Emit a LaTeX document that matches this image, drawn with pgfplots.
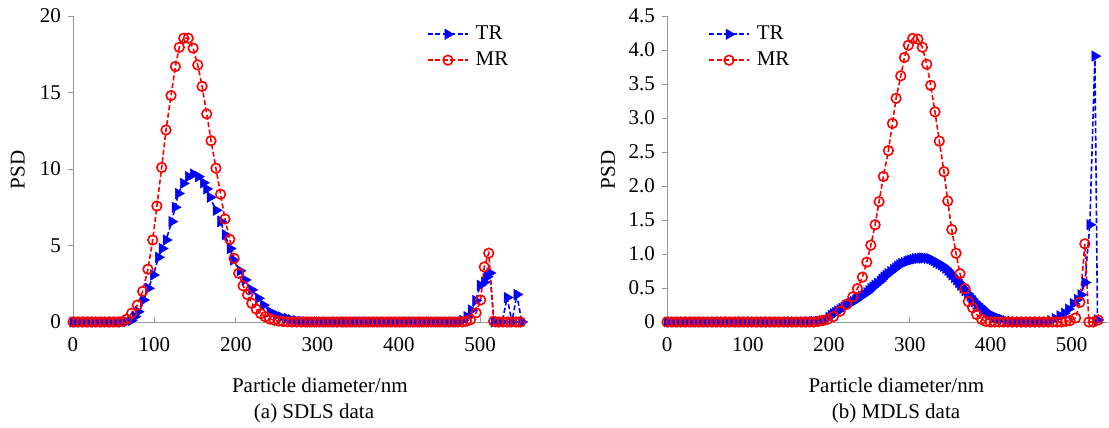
\documentclass[border=0pt]{standalone}
\usepackage{pgfplots}
\pgfplotsset{compat=1.18}
\usepackage{fontspec}
\setmainfont{Liberation Serif}
\definecolor{trblue}{RGB}{0,0,255}
\definecolor{mrred}{RGB}{255,0,0}
\definecolor{axgray}{RGB}{150,150,150}
\begin{document}
\fontsize{21pt}{25pt}\selectfont
\begin{tikzpicture}
\path[use as bounding box] (0,0) rectangle (1109pt,428pt);
\pgfplotsset{
  psd/.style={
    scale only axis,
    anchor=south west,
    height=306pt,
    axis x line*=bottom,
    axis y line*=left,
    axis line style={axgray, line width=0.8pt},
    xtick={0,100,200,300,400,500},
    xtick style={axgray, line width=0.8pt},
    ytick style={axgray, line width=0.8pt},
    tick align=outside,
    xtick align=inside,
    major tick length=5pt,
    ymin=0, xmin=0,
    clip=false,
    /pgf/number format/assume math mode=true,
    tick label style={font=\fontsize{21pt}{25pt}\selectfont},
    xticklabel style={yshift=-8pt},
    label style={font=\fontsize{21pt}{25pt}\selectfont},
    xlabel={Particle diameter/nm},
    ylabel={PSD},
    legend style={draw=none, fill=none, font=\fontsize{21pt}{25pt}\selectfont, anchor=north west, row sep=5pt, inner sep=0pt,
      /tikz/every odd column/.append style={column sep=5pt}},
    legend cell align=left,
    legend image code/.code={
      \draw[##1, mark repeat=2, mark phase=2] plot coordinates {(0pt,0pt) (20pt,0pt) (40pt,0pt)};
    },
  },
  trs/.style={trblue, dashed, dash pattern=on 5pt off 2.5pt, line width=1.6pt, mark=triangle*, mark size=6pt,
    mark options={solid, rotate=-90, fill=trblue, draw=trblue, line width=0.5pt}},
  mrs/.style={mrred, dashed, dash pattern=on 5pt off 2.5pt, line width=1.6pt, mark=o, mark size=4.8pt,
    mark options={solid, draw=mrred, line width=1.6pt}},
}
% ---------------- (a) SDLS ----------------
\begin{axis}[psd,
  at={(73pt,106pt)},
  width=452pt,
  xmax=555, ymax=20,
  ytick={0,5,10,15,20},
  xlabel style={at={(axis description cs:0.546,0)}, anchor=center, yshift=-63pt},
  ylabel style={at={(axis description cs:-0.122,0.497)}, anchor=center, rotate=0},
  legend style={at={(axis description cs:0.783,0.975)}},
]
\addplot[trs] coordinates {
(0,0)(5.5,0)(11,0)(16.5,0)(22,0)(27.5,0)(33,0)(38.5,0)(44,0)(49.5,0)(55,0)(60.5,0)(66,0.02)
(71.5,0.1)(76,0.35)(80,0.67)(86.5,1.44)(92.6,2.2)(98.8,3.07)(104.9,4.23)(109.5,4.8)(114.3,5.36)
(121.3,6.56)(125.3,7.5)(129.4,8.4)(135.5,9.06)(141.7,9.5)(147.8,9.67)(154,9.5)(160.1,9.1)(164,8.7)
(168.3,8.15)(175.7,7.3)(181.4,6.56)(186.7,5.7)(192.9,4.8)(196.9,4.05)(205.1,3.35)(211.3,2.75)
(219.4,2.1)(227.6,1.55)(233.8,1.1)(242,0.67)(250,0.45)(256,0.33)(262.6,0.24)(268,0.15)(274,0.1)
(280,0.05)(286,0.02)(291.5,0)(297,0)(302.5,0)(308,0)(313.5,0)(319,0)(324.5,0)(330,0)(335.5,0)
(341,0)(346.5,0)(352,0)(357.5,0)(363,0)(368.5,0)(374,0)(379.5,0)(385,0)(390.5,0)(396,0)(401.5,0)
(407,0)(412.5,0)(418,0)(423.5,0)(429,0)(434.5,0)(440,0)(445.5,0)(451,0)(456.5,0)(462,0)(467.5,0)
(473,0)(478.5,0.1)(483.5,0.35)(489,0.78)(494.5,1.4)(500,2.4)(505,2.6)(508.5,2.96)(512,3.2)
(517,0)(522,0)(527,0)(533,1.6)(539,0)(545,1.8)(551,0)
};
\addlegendentry{TR}
\addplot[mrs] coordinates {
(0,0)(5.5,0)(11,0)(16.5,0)(22,0)(27.5,0)(33,0)(38.5,0)(44,0)(49.5,0)(55,0)(60.5,0.03)(66,0.18)
(72,0.57)(79,1.1)(85.5,2.0)(92,3.45)(97.9,5.36)(103,7.58)(108.9,10.1)(114.2,12.55)(120.4,14.8)
(125.7,16.7)(130.5,17.95)(136,18.55)(141.5,18.55)(147.5,17.9)(153.2,16.8)(158.5,15.4)(164.2,13.6)
(169.5,11.85)(175.5,10.05)(181.2,8.35)(186.6,6.73)(192.5,5.4)(197.8,4.16)(203.5,3.18)(208.8,2.37)
(214.3,1.78)(219.6,1.22)(225,0.85)(230.5,0.55)(236,0.35)(241.5,0.2)(247,0.12)(252.5,0.06)(258,0.03)
(263.5,0.01)(269,0)(274.5,0)(280,0)(285.5,0)(291,0)(296.5,0)(302,0)(307.5,0)(313,0)(318.5,0)
(324,0)(329.5,0)(335,0)(340.5,0)(346,0)(351.5,0)(357,0)(362.5,0)(368,0)(373.5,0)(379,0)(384.5,0)
(390,0)(395.5,0)(401,0)(406.5,0)(412,0)(417.5,0)(423,0)(428.5,0)(434,0)(439.5,0)(445,0)(450.5,0)
(456,0)(461.5,0)(467,0)(472.5,0)(478,0)(483,0.05)(488,0.15)(495,0.6)(500.5,1.44)(505,3.6)
(510.5,4.5)(516.5,0.05)(522,0)(527.5,0)(533,0)(538.5,0)(544,0)(549.5,0)
};
\addlegendentry{MR}
\end{axis}
% ---------------- (b) MDLS ----------------
\begin{axis}[psd,
  at={(667pt,106pt)},
  width=441pt,
  xmax=545, ymax=4.5,
  ytick={0,0.5,1,1.5,2,2.5,3,3.5,4,4.5},
  yticklabels={0,0.5,1.0,1.5,2.0,2.5,3.0,3.5,4.0,4.5},
  xlabel style={at={(axis description cs:0.52,0)}, anchor=center, yshift=-63pt},
  ylabel style={at={(axis description cs:-0.134,0.497)}, anchor=center, rotate=0},
  legend style={at={(axis description cs:0.093,0.975)}},
]
\addplot[trs] coordinates {
(0,0)(5.5,0)(11,0)(16.5,0)(22,0)(27.5,0)(33,0)(38.5,0)(44,0)(49.5,0)(55,0)(60.5,0)(66,0)
(71.5,0)(77,0)(82.5,0)(88,0)(93.5,0)(99,0)(104.5,0)(110,0)(115.5,0)(121,0)(126.5,0)(132,0)
(137.5,0)(143,0)(148.5,0)(154,0)(159.5,0)(165,0)(170.5,0)(176,0)(181.5,0.01)(187,0.01)(192,0.02)
(195,0.03)(200,0.07)(203,0.1)(205.7,0.12)(208.5,0.14)(211,0.16)(213.5,0.18)(216,0.2)(218.5,0.22)
(221,0.24)(223.5,0.255)(226,0.27)(228.3,0.285)(230.4,0.3)(233,0.32)(235,0.34)(237.5,0.36)(240,0.38)
(243.5,0.405)(246.9,0.43)(249.5,0.46)(252,0.49)(254.5,0.515)(257,0.54)(260,0.57)(263.3,0.6)
(265.6,0.63)(268,0.66)(270.5,0.685)(273,0.71)(276.5,0.74)(279.8,0.77)(282.5,0.795)(285,0.82)
(287.5,0.84)(290,0.86)(293,0.875)(296.3,0.89)(298.6,0.9)(301,0.91)(304,0.92)(307,0.93)(310,0.935)
(312.7,0.94)(315.4,0.94)(318,0.94)(321.5,0.935)(325,0.93)(327.5,0.915)(330,0.9)(333,0.88)(336,0.86)
(338.7,0.84)(341.5,0.82)(344.3,0.79)(347,0.76)(349.5,0.725)(352,0.69)(355,0.655)(358,0.62)
(360.5,0.58)(363,0.54)(365.5,0.5)(368,0.46)(371.2,0.42)(374.5,0.38)(377.2,0.34)(380,0.3)
(383.4,0.265)(386.8,0.23)(389.4,0.2)(392,0.17)(394.5,0.145)(397,0.12)(400,0.105)(403,0.09)
(405.5,0.075)(408,0.06)(411,0.05)(414,0.04)(419,0.02)(425,0.01)(430,0)(435.5,0)(441,0)
(446.5,0)(452,0)(457.5,0)(463,0)(468.5,0)(474,0.02)(479.5,0.05)(485.6,0.09)(491,0.13)(496,0.19)
(502,0.27)(507,0.33)(511.5,0.4)(516.4,0.58)(522.5,1.43)(528.8,3.91)(532,0.03)
};
\addlegendentry{TR}
\addplot[mrs] coordinates {
(0,0)(5.5,0)(11,0)(16.5,0)(22,0)(27.5,0)(33,0)(38.5,0)(44,0)(49.5,0)(55,0)(60.5,0)(66,0)
(71.5,0)(77,0)(82.5,0)(88,0)(93.5,0)(99,0)(104.5,0)(110,0)(115.5,0)(121,0)(126.5,0)(132,0)
(137.5,0)(143,0)(148.5,0)(154,0)(159.5,0)(165,0)(170.5,0)(176,0)(181.5,0)(187,0.01)(192.5,0.02)
(198,0.04)(205.7,0.08)(214,0.16)(222,0.26)(229.6,0.37)(235.3,0.49)(241.5,0.66)(246.9,0.88)
(251.9,1.13)(257.2,1.43)(262.1,1.77)(267.4,2.14)(273.6,2.52)(278.6,2.92)(283.1,3.29)(288.9,3.62)
(293.4,3.89)(298.3,4.07)(303.7,4.17)(310,4.16)(315.6,4.04)(321,3.79)(325.9,3.48)(331.2,3.09)
(336.5,2.66)(342.3,2.21)(346.9,1.78)(351.9,1.36)(357.2,1.01)(362.1,0.71)(368.3,0.49)(372.4,0.3)
(377.8,0.21)(382.7,0.11)(388.8,0.04)(394,0.01)(399.5,0)(405,0)(410.5,0)(416,0)(421.5,0)(427,0)
(432.5,0)(438,0)(443.5,0)(449,0)(454.5,0)(460,0)(465.5,0)(471,0)(476.5,0)(482,0)(487.5,0)
(493,0.01)(498,0.02)(505,0.06)(510.3,0.29)(516.4,1.15)(521.4,0)(526.7,0)(532.8,0.03)
};
\addlegendentry{MR}
\end{axis}
\node[font=\fontsize{21pt}{25pt}\selectfont] at (314pt,15pt) {(a) SDLS data};
\node[font=\fontsize{21pt}{25pt}\selectfont] at (896pt,15pt) {(b) MDLS data};
\end{tikzpicture}
\end{document}
